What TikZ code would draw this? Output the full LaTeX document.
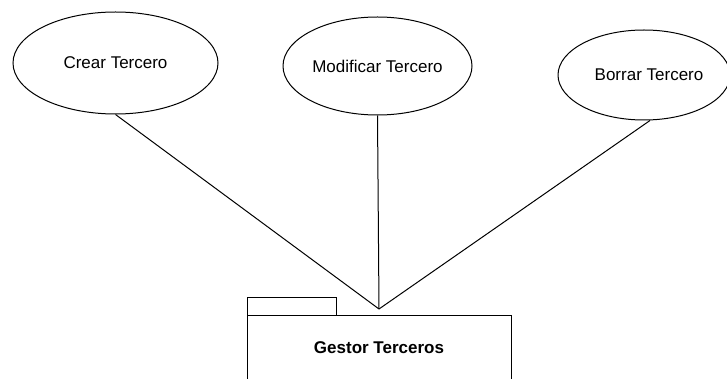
\documentclass[tikz,border=0pt]{standalone}
\usepackage{fontspec}
\setmainfont{Liberation Sans}
\usetikzlibrary{shapes.geometric}
\begin{document}
\begin{tikzpicture}[x=1pt,y=-1pt,
  usecase/.style={draw=black,line width=1pt,ellipse,inner sep=0pt,
    font=\fontsize{17}{20}\selectfont},
  pkgpart/.style={draw=black,line width=1pt,rectangle,inner sep=0pt},
  link/.style={draw=black,line width=1pt}]
  \useasboundingbox (0,0) rectangle (727,379);
  \clip (0,0) rectangle (727,379);
  % use cases
  \node[usecase,minimum width=205pt,minimum height=102pt] (crear) at (115.5,63) {Crear Tercero};
  \node[usecase,minimum width=189pt,minimum height=98pt] (modificar) at (377.5,66) {Modificar Tercero};
  \node[usecase,minimum width=172pt,minimum height=90pt] (borrar) at (644,75) {\hspace{10pt}Borrar Tercero};
  % package: tab and body
  \node[pkgpart,minimum width=89pt,minimum height=18pt] (tab) at (291.5,306) {};
  \node[pkgpart,minimum width=264pt,minimum height=90pt] (pkg) at (379,360) {};
  \node[font=\fontsize{17}{20}\selectfont\bfseries] (pkgname) at (379,348) {Gestor Terceros};
  % meeting point of the associations, just above the package
  \coordinate (hub) at (379,309);
  \path (borrar.south) ++(6,0) coordinate (bstart);
  % connectors
  \draw[link] (crear.south) -- (hub);
  \draw[link] (modificar.south) -- (hub);
  \draw[link] (bstart) -- (hub);
\end{tikzpicture}
\end{document}
